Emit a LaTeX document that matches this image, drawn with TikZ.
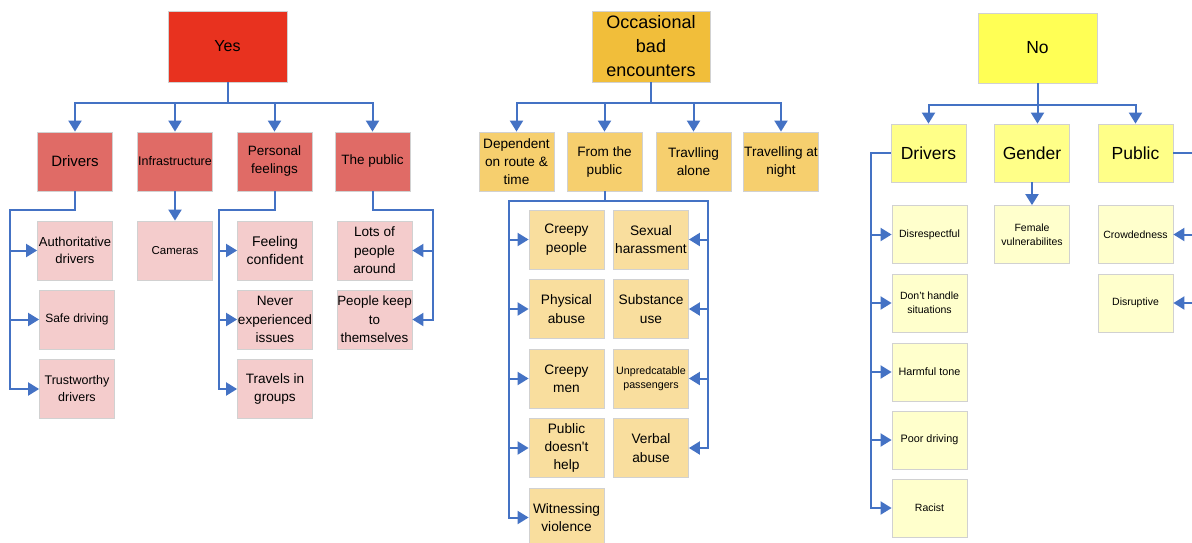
\documentclass[tikz,border=0pt]{standalone}
\usepackage{fontspec}
\setmainfont{Liberation Sans}[Ligatures=TeXOff]
\usetikzlibrary{arrows.meta}
\definecolor{linkblue}{HTML}{4472C4}
\definecolor{yesroot}{HTML}{E8321F}
\definecolor{yesmid}{HTML}{E06B66}
\definecolor{yesleaf}{HTML}{F4CCCC}
\definecolor{occroot}{HTML}{F1BE3A}
\definecolor{occmid}{HTML}{F6CF6E}
\definecolor{occleaf}{HTML}{F9DE9E}
\definecolor{noroot}{HTML}{FFFF55}
\definecolor{nomid}{HTML}{FFFF88}
\definecolor{noleaf}{HTML}{FFFFCC}
\tikzset{
  box/.style={draw=black!18, line width=0.8pt, align=center, inner sep=0pt,
    minimum width=75pt, minimum height=59pt},
  fs/.style 2 args={font=\fontsize{#1}{#2}\selectfont},
  rootbox/.style={box, minimum width=119pt, minimum height=71pt},
  link/.style={draw=linkblue, line width=2pt, -{Triangle[length=11pt,width=13pt]}}
}
\begin{document}
\begin{tikzpicture}[x=1pt,y=-1pt]
\useasboundingbox (0,0) rectangle (1192,542);
%Yes tree
\node[rootbox, fill=yesroot, fs={16}{20}] (yes) at (227.5,46.5) {Yes};
\node[box, fill=yesmid, fs={15}{20}] (ydrv) at (75,161.5) {Drivers};
\node[box, fill=yesmid, fs={12.5}{16}] (yinf) at (175,161.5) {Infrastructure};
\node[box, fill=yesmid, fs={13.5}{18}] (ypers) at (274.5,161.5) {Personal\\feelings};
\node[box, fill=yesmid, fs={13.5}{18}] (ypub) at (372.5,161.5) {The public};
\node[box, fill=yesleaf, fs={13}{17}] (yauth) at (75,250.5) {Authoritative\\drivers};
\node[box, fill=yesleaf, fs={12}{16}] (ysafe) at (77,319.5) {Safe driving};
\node[box, fill=yesleaf, fs={12.5}{17}] (ytrust) at (77,389) {Trustworthy\\drivers};
\node[box, fill=yesleaf, fs={11.5}{15}] (ycam) at (175,250.5) {Cameras};
\node[box, fill=yesleaf, fs={14}{17.5}] (yconf) at (275,250.5) {Feeling\\confident};
\node[box, fill=yesleaf, fs={13.6}{18.3}] (ynever) at (275,319.5) {Never\\experienced\\issues};
\node[box, fill=yesleaf, fs={13.6}{18.3}] (ygroup) at (275,389) {Travels in\\groups};
\node[box, fill=yesleaf, fs={13.6}{18.5}] (ylots) at (374.5,250.5) {Lots of\\people\\around};
\node[box, fill=yesleaf, fs={13.4}{18.3}] (ykeep) at (374.5,319.5) {People keep\\to\\themselves};
\foreach \n in {ydrv,yinf,ypers,ypub}
  \draw[link] (yes.south) -- ++(0,21) -| (\n.north);
\coordinate (ydrvbus) at (10,210);
\coordinate (ypersbus) at (219,210);
\coordinate (ypubbus) at (433,210);
\draw[link] (ydrv.south) |- (ydrvbus) |- (ytrust.west);
\foreach \n in {yauth,ysafe}
  \draw[link] (ydrvbus) |- (\n.west);
\draw[link] (yinf) -- (ycam);
\draw[link] (ypers.south) |- (ypersbus) |- (ygroup.west);
\foreach \n in {yconf,ynever}
  \draw[link] (ypersbus) |- (\n.west);
\draw[link] (ypub.south) |- (ypubbus) |- (ykeep.east);
\draw[link] (ypubbus) |- (ylots.east);
%Occasional tree
\node[rootbox, minimum width=118pt, fill=occroot, fs={18}{24}] (occ) at (651,46.5) {Occasional\\bad\\encounters};
\node[box, fill=occmid, fs={13.6}{18}] (mdep) at (516.5,161.5) {Dependent\\on route \&\\time};
\node[box, fill=occmid, fs={13.6}{18}] (mfrom) at (604.5,161.5) {From the\\public};
\node[box, fill=occmid, fs={13.6}{18}] (malone) at (693.5,161.5) {Travlling\\alone};
\node[box, fill=occmid, fs={13.6}{18}] (mnight) at (781,161.5) {Travelling at\\night};
\node[box, fill=occleaf, fs={13.7}{18.3}] (mcreepy) at (566.5,239.5) {Creepy\\people};
\node[box, fill=occleaf, fs={13.7}{18.3}] (mphys) at (566.5,309) {Physical\\abuse};
\node[box, fill=occleaf, fs={13.7}{18.3}] (mmen) at (566.5,378.5) {Creepy\\men};
\node[box, fill=occleaf, fs={13.7}{18.3}] (mhelp) at (566.5,448) {Public\\doesn't\\help};
\node[box, fill=occleaf, fs={13.7}{18.3}] (mwit) at (566.5,517.5) {Witnessing\\violence};
\node[box, fill=occleaf, fs={13.7}{18.3}] (msex) at (651,239.5) {Sexual\\harassment};
\node[box, fill=occleaf, fs={13.7}{18.3}] (msub) at (651,309) {Substance\\use};
\node[box, fill=occleaf, fs={10.7}{14}] (munpred) at (651,378.5) {Unpredcatable\\passengers};
\node[box, fill=occleaf, fs={13.7}{18.3}] (mverbal) at (651,448) {Verbal\\abuse};
\foreach \n in {mdep,mfrom,malone,mnight}
  \draw[link] (occ.south) -- ++(0,21) -| (\n.north);
\coordinate (mleft) at (509,201);
\coordinate (mright) at (708,201);
\draw[link] (mfrom.south) |- (mleft) |- (mwit.west);
\foreach \n in {mcreepy,mphys,mmen,mhelp}
  \draw[link] (mleft) |- (\n.west);
\draw[link] (mfrom.south) |- (mright) |- (mverbal.east);
\foreach \n in {msex,msub,munpred}
  \draw[link] (mright) |- (\n.east);
%No tree
\node[rootbox, minimum height=70pt, fill=noroot, fs={17.5}{21}] (no) at (1037.5,48) {No};
\node[box, minimum height=58pt, fill=nomid, fs={17.5}{21}] (rdrv) at (928.5,153) {Drivers};
\node[box, minimum height=58pt, fill=nomid, fs={17.5}{21}] (rgen) at (1032,153) {Gender};
\node[box, minimum height=58pt, fill=nomid, fs={17.5}{21}] (rpub) at (1135.5,153) {Public};
\node[box, minimum height=58pt, fill=noleaf, fs={10.5}{14}] (rdis) at (929.5,234.5) {Disrespectful};
\node[box, minimum height=58pt, fill=noleaf, fs={10.5}{14}] (rhandle) at (929.5,303) {Don’t handle\\situations};
\node[box, minimum height=58pt, fill=noleaf, fs={10.8}{14}] (rharm) at (929.5,372) {Harmful tone};
\node[box, minimum height=58pt, fill=noleaf, fs={10.8}{14}] (rpoor) at (929.5,440) {Poor driving};
\node[box, minimum height=58pt, fill=noleaf, fs={10.5}{14}] (racist) at (929.5,508) {Racist};
\node[box, minimum height=58pt, fill=noleaf, fs={10.5}{14}] (rfem) at (1032,234.5) {Female\\vulnerabilites};
\node[box, minimum height=58pt, fill=noleaf, fs={10.5}{14}] (rcrowd) at (1135.5,234.5) {Crowdedness};
\node[box, minimum height=58pt, fill=noleaf, fs={10.5}{14}] (rdisrupt) at (1135.5,303) {Disruptive};
\draw[link] (no.south) -- ++(0,22) -| (rdrv.north);
\draw[link] (no.south) -- ++(0,22) -| (rpub.north);
\draw[link] (no.south) -- (no.south |- rgen.north);
\coordinate (rbus) at (871,153);
\coordinate (rpbus) at (1198,153);
\draw[link] (rdrv.west) -- (rbus) |- (racist.west);
\foreach \n in {rdis,rhandle,rharm,rpoor}
  \draw[link] (rbus) |- (\n.west);
\draw[link] (rgen) -- (rfem);
\draw[link] (rpub.east) -- (rpbus) |- (rdisrupt.east);
\draw[link] (rpbus) |- (rcrowd.east);
\end{tikzpicture}
\end{document}
